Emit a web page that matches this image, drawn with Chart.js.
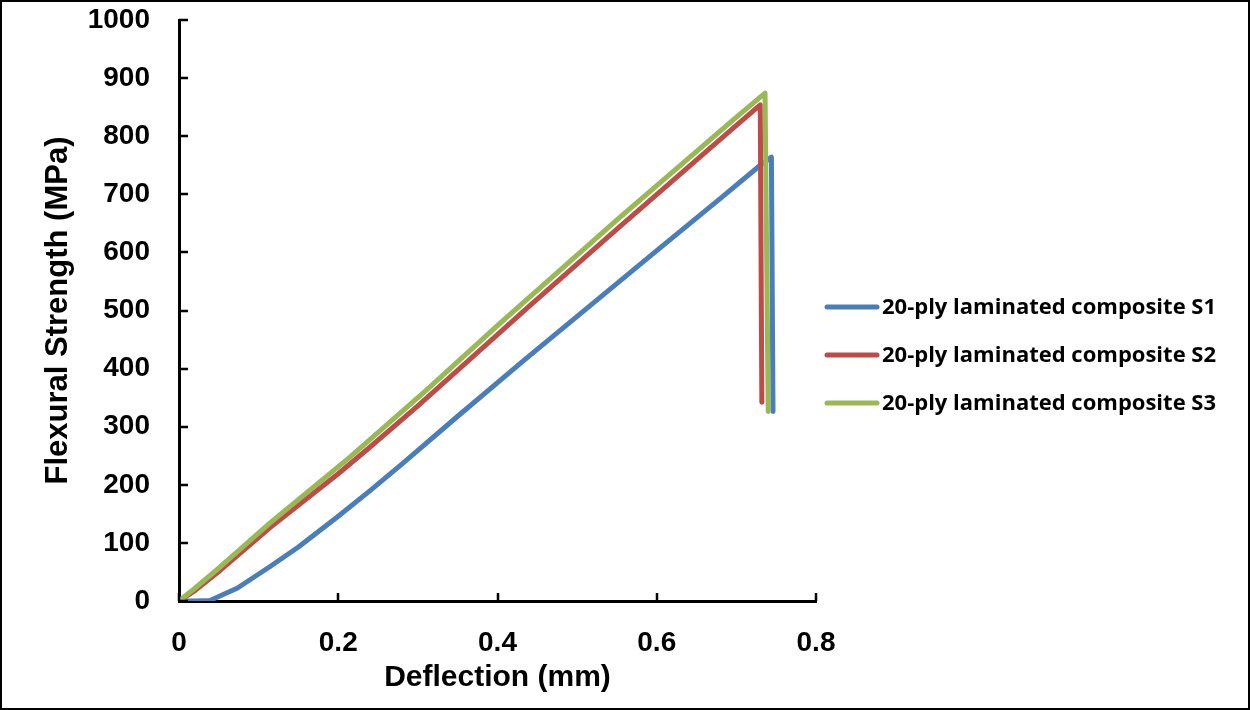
<!DOCTYPE html>
<html>
<head>
<meta charset="utf-8">
<script src="https://cdn.jsdelivr.net/npm/chart.js@4.4.1/dist/chart.umd.min.js"></script>
<style>
  html, body { margin: 0; padding: 0; background: #fff; }
  #wrap { width: 1250px; height: 710px; }
</style>
</head>
<body>
<div id="wrap"><canvas id="flex"></canvas></div>
<script>
// Flexural strength vs deflection, 20-ply laminated composite (3 samples)

var seriesNames = ['20-ply laminated composite S1', '20-ply laminated composite S2', '20-ply laminated composite S3'];
var seriesColors = ['#4A7EBB', '#BE4B48', '#98B954'];

// deflection (mm) / strength (MPa)
var s1Deflection = [0, 0.02, 0.039, 0.052, 0.073, 0.093, 0.114, 0.15, 0.2, 0.24, 0.281, 0.35, 0.432, 0.5, 0.6, 0.68, 0.73, 0.744, 0.746];
var s1Strength   = [0, 0, 1, 9, 22, 40, 59, 93, 146, 190, 237, 318, 413, 490, 603, 693, 750, 764, 326];

var s2Deflection = [0, 0.02, 0.052, 0.114, 0.2, 0.24, 0.3, 0.441, 0.55, 0.696, 0.73, 0.732];
var s2Strength   = [0, 18, 53, 126, 219, 265, 336, 509, 640, 814, 854, 342];

var s3Deflection = [0, 0.02, 0.052, 0.114, 0.215, 0.31, 0.403, 0.55, 0.696, 0.736, 0.74];
var s3Strength   = [0, 22, 59, 134, 248, 362, 478, 656, 828, 874, 326];

var xTicks = [0, 0.2, 0.4, 0.6, 0.8];
var xTickLabels = ['0', '0.2', '0.4', '0.6', '0.8'];
var yTicks = [0, 100, 200, 300, 400, 500, 600, 700, 800, 900, 1000];
var yTickLabels = ['0', '100', '200', '300', '400', '500', '600', '700', '800', '900', '1000'];

function toPoints(xs, ys) {
  return xs.map(function (x, i) { return { x: x, y: ys[i] }; });
}

function makeSet(i, xs, ys, order) {
  return {
    label: seriesNames[i],
    data: toPoints(xs, ys),
    borderColor: seriesColors[i],
    backgroundColor: seriesColors[i],
    borderWidth: 5,
    borderCapStyle: 'round',
    borderJoinStyle: 'round',
    pointRadius: 0,
    tension: 0,
    order: order
  };
}

// white page + outer frame
var framePlugin = {
  id: 'frame',
  beforeDraw: function (chart) {
    var ctx = chart.ctx;
    ctx.save();
    ctx.fillStyle = '#fff';
    ctx.fillRect(0, 0, chart.width, chart.height);
    ctx.restore();
  },
  afterDraw: function (chart) {
    var ctx = chart.ctx;
    ctx.save();
    ctx.strokeStyle = '#000';
    ctx.lineWidth = 2;
    ctx.strokeRect(1, 1, chart.width - 2, chart.height - 2);
    ctx.restore();
  }
};

// tick marks pointing into the plot
var innerTicks = {
  id: 'innerTicks',
  afterDraw: function (chart) {
    var ctx = chart.ctx, area = chart.chartArea;
    var xs = chart.scales.x, ys = chart.scales.y;
    ctx.save();
    ctx.strokeStyle = '#000';
    ctx.lineWidth = 2.5;
    ctx.beginPath();
    yTicks.forEach(function (v) {
      var py = Math.round(ys.getPixelForValue(v));
      ctx.moveTo(area.left, py);
      ctx.lineTo(area.left + 9, py);
    });
    xTicks.forEach(function (v) {
      var px = Math.round(xs.getPixelForValue(v));
      ctx.moveTo(px, area.bottom);
      ctx.lineTo(px, area.bottom - 8);
    });
    ctx.stroke();
    ctx.restore();
  }
};

// legend on the right: line sample + label
var sideLegend = {
  id: 'sideLegend',
  afterDraw: function (chart) {
    var ctx = chart.ctx;
    ctx.save();
    chart.data.datasets.forEach(function (ds, i) {
      var y = 307 + i * 48;
      ctx.strokeStyle = ds.borderColor;
      ctx.lineWidth = 5;
      ctx.lineCap = 'round';
      ctx.beginPath();
      ctx.moveTo(827, y);
      ctx.lineTo(877, y);
      ctx.stroke();
      ctx.fillStyle = '#000';
      ctx.font = 'bold 22px "Open Sans"';
      ctx.textBaseline = 'middle';
      ctx.fillText(ds.label, 882, y + 1);
    });
    ctx.restore();
  }
};

var tickFont = { family: '"Liberation Sans", Arial, sans-serif', size: 28, weight: 'bold' };

var ctx = document.getElementById('flex').getContext('2d');
var chart = new Chart(ctx, {
  type: 'line',
  data: {
    datasets: [
      makeSet(0, s1Deflection, s1Strength, 3),
      makeSet(1, s2Deflection, s2Strength, 2),
      makeSet(2, s3Deflection, s3Strength, 1)
    ]
  },
  options: {
    responsive: true,
    maintainAspectRatio: false,
    animation: false,
    layout: { padding: { left: 0, right: 434, top: 20, bottom: 0 } },
    plugins: {
      legend: { display: false },
      tooltip: { enabled: false }
    },
    scales: {
      x: {
        type: 'linear',
        min: 0,
        max: 0.8,
        afterBuildTicks: function (scale) {
          scale.ticks = xTicks.map(function (v) { return { value: v }; });
        },
        afterFit: function (scale) { scale.height = 109; },
        grid: { display: false, drawTicks: false },
        border: { display: true, color: '#000', width: 3 },
        ticks: {
          color: '#000',
          font: tickFont,
          padding: 25,
          maxRotation: 0,
          callback: function (value, index) { return xTickLabels[index]; }
        },
        title: {
          display: true,
          text: 'Deflection (mm)',
          color: '#000',
          font: { family: '"Liberation Sans", Arial, sans-serif', size: 30, weight: 'bold' },
          padding: { top: 0, bottom: 14 }
        }
      },
      y: {
        type: 'linear',
        min: 0,
        max: 1000,
        afterBuildTicks: function (scale) {
          scale.ticks = yTicks.map(function (v) { return { value: v }; });
        },
        afterFit: function (scale) {
          scale.width = 179;
          scale.paddingTop = 0;
          scale.paddingBottom = 0;
        },
        grid: { display: false, drawTicks: false },
        border: { display: true, color: '#000', width: 3 },
        ticks: {
          color: '#000',
          font: tickFont,
          padding: 29,
          callback: function (value, index) { return yTickLabels[index]; }
        },
        title: {
          display: true,
          text: 'Flexural Strength (MPa)',
          color: '#000',
          font: { family: '"Liberation Sans", Arial, sans-serif', size: 31, weight: 'bold' },
          padding: { top: 40, bottom: 0 }
        }
      }
    }
  },
  plugins: [framePlugin, innerTicks, sideLegend]
});
</script>
</body>
</html>
